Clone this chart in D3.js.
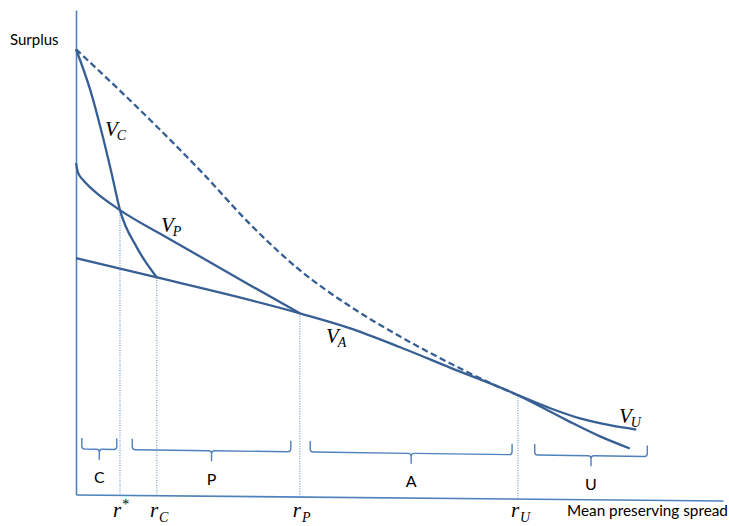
<!DOCTYPE html>
<html>
<head>
<meta charset="utf-8">
<script src="https://cdn.jsdelivr.net/npm/d3@7"></script>
<style>
  body { margin: 0; background: #fff; }
  svg text { fill: #000; }
</style>
</head>
<body>
<div id="chart"></div>
<script>
// cut-off points on the spread axis (r*, rC, rP, rU)
const cutNames = ["*", "C", "P", "U"];
const cutValues = [0.68, 1.25, 3.46, 6.83];

// dashed upper envelope
const envX = [0, 0.94, 1.96, 2.69, 3.46, 4.24, 5.01, 5.78, 6.55, 6.83];
const envY = [9.19, 8.00, 6.63, 5.58, 4.63, 3.88, 3.26, 2.71, 2.21, 2.05];

// V_C
const vcX = [0, 0.22, 0.40, 0.55, 0.68, 0.94, 1.25];
const vcY = [9.19, 8.35, 7.46, 6.63, 5.87, 5.10, 4.48];

// V_P
const vpX = [0, 0.03, 0.11, 0.22, 0.32, 0.68, 1.45, 2.69, 3.46];
const vpY = [6.84, 6.65, 6.49, 6.34, 6.22, 5.87, 5.27, 4.32, 3.74];

// V_A
const vaX = [0, 1.25, 3.46, 4.24, 5.01, 5.78, 6.83, 7.59, 8.10, 8.56];
const vaY = [4.88, 4.48, 3.74, 3.43, 3.04, 2.62, 2.05, 1.53, 1.20, 0.95];

// V_U
const vuX = [6.83, 7.33, 7.79, 8.25, 8.66];
const vuY = [2.05, 1.78, 1.57, 1.43, 1.34];

// regions under the braces
const regionNames = ["C", "P", "A", "U"];
const regionFrom = [0.09, 0.87, 3.62, 7.09];
const regionTo = [0.63, 3.32, 6.74, 8.83];

const width = 729, height = 526;
const curveColor = "#375f94";
const axisColor = "#4f81bd";
const textFont = "Lato, 'Open Sans', sans-serif";
const mathFont = "'Liberation Serif', 'DejaVu Serif', serif";

const svg = d3.select("#chart").append("svg")
  .attr("width", width)
  .attr("height", height);

const x = d3.scaleLinear().domain([0, 10]).range([76, 723]);
const y = d3.scaleLinear().domain([0, 10]).range([494.5, 10]);

// x axis is drawn a touch off horizontal, like in the original
const tilt = 0.53;
const axisY = function(px) { return y(0) + (px - x(0)) * Math.tan(tilt * Math.PI / 180); };
const braceY = function(px) { return 449 + (px - x(0)) * 0.013; };

// axes
svg.append("g")
  .attr("transform", "translate(" + x(0) + ",0)")
  .call(d3.axisLeft(y).tickValues([]).tickSizeOuter(0))
  .call(g => g.select(".domain").attr("stroke", axisColor).attr("stroke-width", 1.6));

svg.append("g")
  .attr("transform", "translate(0," + y(0) + ") rotate(" + tilt + "," + x(0) + ",0)")
  .call(d3.axisBottom(x).tickValues([]).tickSizeOuter(0))
  .call(g => g.select(".domain").attr("stroke", axisColor).attr("stroke-width", 1.6));

// dotted guides down from the crossing points
const cutTop = [vcY[4], vaY[1], vaY[2], vaY[6]];
svg.selectAll(".guide")
  .data(cutValues)
  .enter()
  .append("line")
    .attr("class", "guide")
    .attr("x1", d => x(d))
    .attr("x2", d => x(d))
    .attr("y1", (d, i) => y(cutTop[i]))
    .attr("y2", d => axisY(x(d)))
    .attr("stroke", axisColor)
    .attr("stroke-width", 1)
    .attr("stroke-dasharray", "1,1.5");

// curves
const line = d3.line()
  .x(d => x(d[0]))
  .y(d => y(d[1]))
  .curve(d3.curveMonotoneX);

const curves = [
  { xs: envX, ys: envY, dash: "6.5,3.5" },
  { xs: vcX, ys: vcY, dash: null },
  { xs: vpX, ys: vpY, dash: null },
  { xs: vaX, ys: vaY, dash: null },
  { xs: vuX, ys: vuY, dash: null }
];

svg.selectAll(".curve")
  .data(curves)
  .enter()
  .append("path")
    .attr("class", "curve")
    .attr("d", d => line(d3.zip(d.xs, d.ys)))
    .attr("fill", "none")
    .attr("stroke", curveColor)
    .attr("stroke-width", 2.3)
    .attr("stroke-dasharray", d => d.dash);

// curly braces for the regions
function bracePath(x0, x1) {
  var xm = (x0 + x1) / 2;
  var b0 = braceY(x0), b1 = braceY(x1), bm = braceY(xm);
  var r = 3;
  return "M" + x0 + "," + (b0 - 11) +
    " L" + x0 + "," + (b0 - r) +
    " Q" + x0 + "," + b0 + " " + (x0 + r) + "," + b0 +
    " L" + (xm - r) + "," + bm +
    " Q" + xm + "," + bm + " " + xm + "," + (bm + r) +
    " L" + xm + "," + (bm + 10.5) +
    " M" + xm + "," + (bm + r) +
    " Q" + xm + "," + bm + " " + (xm + r) + "," + bm +
    " L" + (x1 - r) + "," + b1 +
    " Q" + x1 + "," + b1 + " " + x1 + "," + (b1 - r) +
    " L" + x1 + "," + (b1 - 11);
}

svg.selectAll(".brace")
  .data(regionNames)
  .enter()
  .append("path")
    .attr("class", "brace")
    .attr("d", (d, i) => bracePath(x(regionFrom[i]), x(regionTo[i])))
    .attr("fill", "none")
    .attr("stroke", axisColor)
    .attr("stroke-width", 1.4);

svg.selectAll(".region")
  .data(regionNames)
  .enter()
  .append("text")
    .attr("class", "region")
    .attr("x", (d, i) => (x(regionFrom[i]) + x(regionTo[i])) / 2)
    .attr("y", (d, i) => braceY((x(regionFrom[i]) + x(regionTo[i])) / 2) + 34)
    .attr("text-anchor", "middle")
    .style("font-family", textFont)
    .style("font-size", "16px")
    .text(d => d);

// r tick labels
const rt = svg.selectAll(".rlabel")
  .data(cutNames)
  .enter()
  .append("text")
    .attr("class", "rlabel")
    .attr("x", (d, i) => x(cutValues[i]) - 7)
    .attr("y", 517)
    .style("font-family", mathFont)
    .style("font-style", "italic")
    .style("font-size", "21px");
rt.append("tspan").text("r");
rt.append("tspan")
  .attr("dx", 1)
  .attr("dy", d => d == "*" ? -8 : 5)
  .style("font-size", "14px")
  .style("font-style", d => d == "*" ? "normal" : "italic")
  .text(d => d);

// curve labels
const vLabels = [
  { sub: "C", px: 105, py: 136 },
  { sub: "P", px: 161, py: 232 },
  { sub: "A", px: 326, py: 343 },
  { sub: "U", px: 619, py: 423 }
];
const vt = svg.selectAll(".vlabel")
  .data(vLabels)
  .enter()
  .append("text")
    .attr("class", "vlabel")
    .attr("x", d => d.px)
    .attr("y", d => d.py)
    .style("font-family", mathFont)
    .style("font-style", "italic")
    .style("font-size", "21px");
vt.append("tspan").text("V");
vt.append("tspan")
  .attr("dx", -1)
  .attr("dy", 4)
  .style("font-size", "14px")
  .text(d => d.sub);

// axis titles
svg.append("text")
  .attr("x", 10)
  .attr("y", 45)
  .style("font-family", textFont)
  .style("font-size", "15px")
  .text("Surplus");

svg.append("text")
  .attr("x", 567)
  .attr("y", 516)
  .style("font-family", textFont)
  .style("font-size", "15.3px")
  .text("Mean preserving spread");
</script>
</body>
</html>
